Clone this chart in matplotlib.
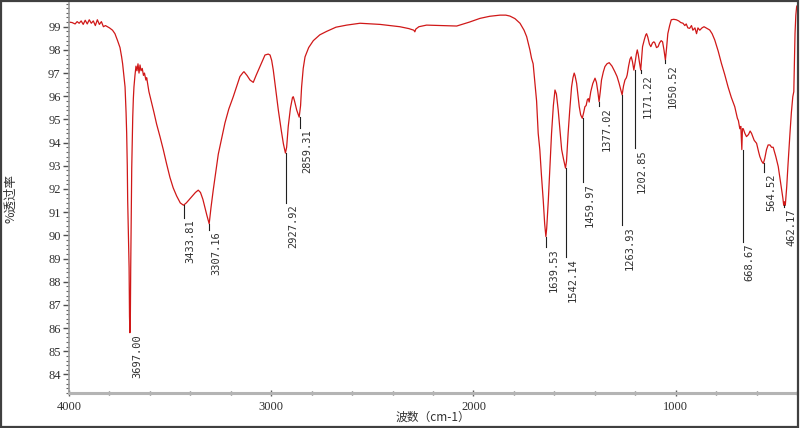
"""
FTIR spectrum (transmittance vs wavenumber) with labelled peaks.
Output: out.png
"""
import matplotlib
matplotlib.use("Agg")
import matplotlib.pyplot as plt
from matplotlib.patches import Rectangle
from matplotlib.ticker import MultipleLocator

plt.rcParams.update({
    "font.family": ["Liberation Serif", "Noto Sans CJK SC"],
    "font.size": 9,
})

# ── spectrum (wavenumber cm-1, %T) ──
wavenumber = [
    4000, 3985, 3970, 3960, 3950, 3940, 3930, 3920, 3910, 3900, 3890, 3880,
    3870, 3860, 3850, 3840, 3830, 3820, 3800, 3785, 3773, 3760, 3748, 3740,
    3735, 3728, 3723, 3718, 3715, 3712, 3710, 3706, 3703, 3701, 3699, 3697,
    3695, 3692, 3690, 3687, 3685, 3682, 3679, 3674, 3669, 3664, 3659, 3654,
    3649, 3644, 3638, 3632, 3627, 3620, 3616, 3605, 3591, 3580, 3567, 3550,
    3534, 3518, 3501, 3485, 3468, 3450, 3434, 3420, 3410, 3390, 3375, 3361,
    3350, 3338, 3328, 3318, 3307, 3298, 3287, 3275, 3262, 3245, 3229, 3210,
    3188, 3170, 3155, 3140, 3135, 3120, 3105, 3089, 3075, 3056, 3040, 3031,
    3015, 3006, 2998, 2990, 2978, 2965, 2950, 2940, 2930, 2924, 2916, 2905,
    2895, 2891, 2885, 2874, 2862, 2855, 2850, 2842, 2833, 2815, 2792, 2760,
    2726, 2680, 2627, 2561, 2462, 2364, 2320, 2295, 2290, 2285, 2270, 2232,
    2150, 2083, 2020, 1968, 1920, 1869, 1840, 1820, 1795, 1770, 1750, 1737,
    1721, 1713, 1705, 1696, 1688, 1680, 1672, 1664, 1655, 1648, 1642, 1638,
    1630, 1622, 1614, 1605, 1597, 1590, 1581, 1572, 1564, 1555, 1545, 1540,
    1532, 1524, 1515, 1508, 1502, 1498, 1490, 1483, 1477, 1470, 1462, 1455,
    1449, 1443, 1437, 1432, 1428, 1420, 1410, 1399, 1392, 1385, 1379, 1373,
    1367, 1358, 1350, 1340, 1329, 1315, 1301, 1290, 1280, 1272, 1265, 1258,
    1251, 1244, 1240, 1233, 1226, 1220, 1214, 1207, 1200, 1195, 1190, 1185,
    1180, 1173, 1168, 1164, 1155, 1148, 1144, 1138, 1130, 1123, 1115, 1108,
    1103, 1095, 1087, 1080, 1072, 1065, 1058, 1051, 1045, 1039, 1030, 1022,
    1010, 997, 985, 975, 964, 955, 948, 940, 931, 922, 915, 905,
    897, 890, 881, 870, 860, 850, 840, 832, 820, 807, 790, 774,
    758, 741, 725, 708, 695, 690, 683, 678, 673, 670, 666, 658,
    650, 640, 632, 625, 612, 600, 590, 584, 575, 567, 560, 551,
    543, 534, 526, 518, 505, 493, 485, 476, 470, 466, 462, 458,
    451, 445, 435, 428, 421, 416, 413, 410, 406, 402, 400,
]
transmittance = [
    99.20, 99.18, 99.12, 99.22, 99.15, 99.25, 99.10, 99.28, 99.12, 99.30, 99.15, 99.25,
    99.05, 99.30, 99.10, 99.22, 99.00, 99.05, 98.95, 98.85, 98.70, 98.40, 98.10, 97.70,
    97.40, 96.80, 96.40, 95.30, 94.40, 93.00, 91.50, 89.80, 88.60, 86.50, 85.80, 86.20,
    88.60, 91.00, 92.90, 94.30, 95.10, 95.90, 96.40, 96.90, 97.30, 97.10, 97.40, 97.00,
    97.35, 97.10, 97.20, 96.90, 97.00, 96.70, 96.80, 96.20, 95.70, 95.30, 94.80, 94.25,
    93.70, 93.10, 92.50, 92.05, 91.70, 91.40, 91.30, 91.40, 91.50, 91.70, 91.85, 91.95,
    91.85, 91.55, 91.20, 90.85, 90.50, 91.20, 91.95, 92.70, 93.50, 94.20, 94.85, 95.45,
    95.98, 96.45, 96.85, 97.02, 97.06, 96.90, 96.70, 96.60, 96.90, 97.28, 97.60, 97.78,
    97.82, 97.78, 97.55, 97.13, 96.30, 95.40, 94.50, 93.95, 93.55, 93.80, 94.70, 95.50,
    95.95, 95.98, 95.80, 95.40, 95.10, 95.60, 96.40, 97.20, 97.70, 98.10, 98.40, 98.65,
    98.80, 98.98, 99.07, 99.15, 99.10, 99.00, 98.92, 98.85, 98.78, 98.90, 99.00, 99.07,
    99.05, 99.03, 99.20, 99.36, 99.45, 99.50, 99.50, 99.46, 99.35, 99.15, 98.85, 98.57,
    98.00, 97.64, 97.40, 96.56, 95.80, 94.40, 93.70, 92.60, 91.50, 90.50, 89.95, 90.30,
    91.50, 93.00, 94.40, 95.60, 96.27, 96.10, 95.40, 94.50, 93.70, 93.30, 92.90, 93.20,
    94.40, 95.40, 96.40, 96.80, 97.00, 96.90, 96.56, 96.00, 95.55, 95.20, 95.05, 95.30,
    95.55, 95.60, 95.85, 95.90, 95.75, 96.20, 96.55, 96.78, 96.60, 96.20, 95.77, 96.20,
    96.70, 97.05, 97.28, 97.40, 97.45, 97.30, 97.06, 96.85, 96.56, 96.30, 96.06, 96.45,
    96.70, 96.80, 96.92, 97.30, 97.60, 97.70, 97.50, 97.13, 97.50, 97.80, 98.00, 97.80,
    97.50, 97.13, 97.70, 98.14, 98.45, 98.65, 98.70, 98.55, 98.25, 98.14, 98.30, 98.35,
    98.30, 98.10, 98.14, 98.30, 98.40, 98.35, 98.00, 97.56, 98.10, 98.70, 99.05, 99.30,
    99.32, 99.30, 99.25, 99.18, 99.15, 99.05, 99.12, 98.95, 98.93, 99.05, 98.85, 98.95,
    98.70, 98.95, 98.85, 98.95, 99.00, 98.95, 98.90, 98.86, 98.70, 98.43, 97.95, 97.42,
    96.95, 96.40, 95.95, 95.55, 95.05, 94.95, 94.60, 94.70, 93.70, 94.60, 94.60, 94.40,
    94.26, 94.35, 94.50, 94.40, 94.10, 93.97, 93.60, 93.40, 93.20, 93.10, 93.30, 93.70,
    93.90, 93.90, 93.80, 93.80, 93.40, 92.97, 92.50, 91.96, 91.60, 91.30, 91.45, 91.30,
    92.10, 93.00, 94.40, 95.30, 95.98, 96.20, 97.50, 98.70, 99.50, 99.86, 99.90,
]

# ── peak labels: position, curve value, where the label starts ──
peak_labels = ["3697.00", "3433.81", "3307.16", "2927.92", "2859.31",
               "1639.53", "1542.14", "1459.97", "1377.02", "1263.93",
               "1202.85", "1171.22", "1050.52", "668.67", "564.52", "462.17"]
peak_wn = [3697.00, 3433.81, 3307.16, 2927.92, 2859.31,
           1639.53, 1542.14, 1459.97, 1377.02, 1263.93,
           1202.85, 1171.22, 1050.52, 668.67, 564.52, 462.17]
peak_t = [85.8, 91.3, 90.5, 93.55, 95.1,
          89.95, 92.9, 95.05, 95.77, 96.06,
          97.13, 97.13, 97.56, 93.7, 93.1, 91.3]
label_t = [85.8, 90.75, 90.25, 91.4, 94.63,
           89.5, 89.07, 92.3, 95.6, 90.45,
           93.77, 97.0, 97.43, 89.72, 92.74, 91.23]

fig = plt.figure(figsize=(8, 4.28), dpi=100)
ax = fig.add_axes([0.0863, 0.0818, 0.910, 0.911])

ax.plot(wavenumber, transmittance, color="#d01818", lw=0.9)

for txt, wn, pt, lt in zip(peak_labels, peak_wn, peak_t, label_t):
    ax.plot([wn, wn], [pt, lt], color="#202020", lw=0.8)
    ax.annotate(txt, xy=(wn, lt), xytext=(1.5, -1), textcoords="offset points",
                rotation=90, ha="left", va="top", fontsize=7.5,
                family="DejaVu Sans Mono", color="#303030")

ax.set_xlim(4000, 400)
ax.set_ylim(83.2, 100.02)

ax.xaxis.set_major_locator(MultipleLocator(1000))
ax.xaxis.set_minor_locator(MultipleLocator(200))
ax.yaxis.set_minor_locator(MultipleLocator(0.2))
ax.set_yticks(range(84, 100))

for s in ("top", "right"):
    ax.spines[s].set_visible(False)
ax.spines["bottom"].set_color("#b4b4b4")
ax.spines["bottom"].set_linewidth(2.2)
ax.spines["left"].set_color("#9a9a9a")
ax.spines["left"].set_linewidth(1.2)

ax.tick_params(axis="x", which="major", direction="inout", length=5,
               width=1, color="#606060", labelsize=9, labelcolor="#303030", pad=3)
ax.tick_params(axis="x", which="minor", direction="inout", length=3,
               width=1, color="#606060")
ax.tick_params(axis="y", which="major", direction="out", length=4,
               width=1, color="#505050", labelsize=9, labelcolor="#303030", pad=2)
ax.tick_params(axis="y", which="minor", direction="out", length=2,
               width=0.8, color="#606060")

ax.set_xlabel("波数（cm-1）", fontsize=8.5, color="#303030",
              family=["Noto Sans CJK SC", "DejaVu Sans"], labelpad=-1.5)
ax.set_ylabel("%透过率", fontsize=9, color="#303030",
              family=["Noto Sans CJK SC", "DejaVu Sans"], labelpad=22)

# outer frame of the screenshot
fig.patches.append(Rectangle((0.001, 0.002), 0.997, 0.996, transform=fig.transFigure,
                             fill=False, edgecolor="#404040", lw=1.6))

fig.savefig("out.png", dpi=100)
